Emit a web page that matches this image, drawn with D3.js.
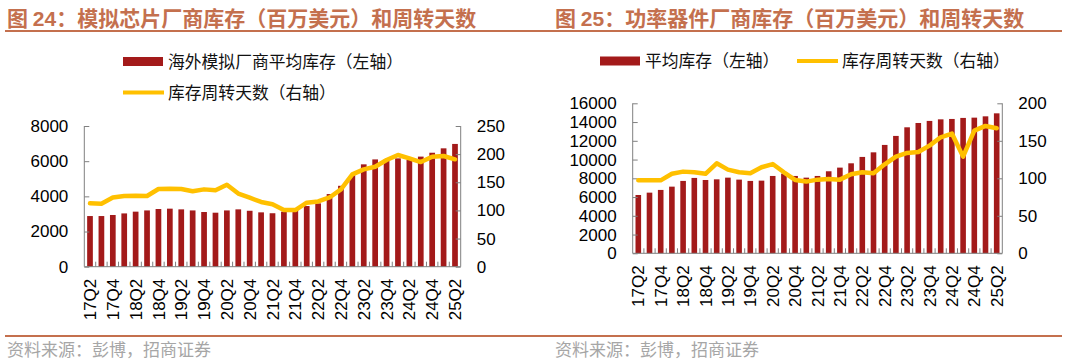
<!DOCTYPE html>
<html>
<head>
<meta charset="utf-8">
<script src="https://cdn.jsdelivr.net/npm/d3@7"></script>
<style>
  html, body { margin: 0; padding: 0; background: #fff; }
  svg { display: block; }
  .num { font-family: "Liberation Sans", Arial, sans-serif; }
  .cjk { font-family: "Noto Sans CJK SC", sans-serif; }
</style>
</head>
<body>
<div id="chart"></div>
<script>
// 季度
const quarters = ['17Q2','17Q3','17Q4','18Q1','18Q2','18Q3','18Q4','19Q1','19Q2','19Q3','19Q4',
  '20Q1','20Q2','20Q3','20Q4','21Q1','21Q2','21Q3','21Q4','22Q1','22Q2','22Q3','22Q4',
  '23Q1','23Q2','23Q3','23Q4','24Q1','24Q2','24Q3','24Q4','25Q1','25Q2'];

// 图24 模拟芯片
const analogInventory = [2880,2880,2940,3030,3130,3200,3280,3300,3260,3200,3110,3070,3200,3260,3180,3090,
  3040,3130,3260,3450,3600,4130,4600,5210,5820,6100,6100,6160,6070,6260,6480,6730,6980];
const analogDays = [112.6,112,123,125.6,126,125.6,138,138.6,138,134,137.4,136,145.7,130,122.6,115,
  111,100.7,100.7,113.7,116,123,137.4,164,173,177.7,189.6,198.5,192.5,186,195.5,196.7,190.8];
const analogLeftTicks = [0,2000,4000,6000,8000];
const analogRightTicks = [0,50,100,150,200,250];

// 图25 功率器件
const powerInventory = [6220,6470,6760,7110,7720,8040,7820,7890,8070,7860,7720,7750,8250,8500,8250,8070,
  8250,8750,9140,9600,10280,10770,11560,12520,13440,13900,14120,14290,14330,14440,14470,14610,14930];
const powerDays = [97.3,97.3,97.3,106,108.9,108,106,120,111.6,108,106.7,114.7,119,108,97.8,95.6,
  98.2,99,98.2,105.3,108,106.7,118.7,128.9,133.8,135,143.6,154.7,159.6,128.9,163.6,169.8,166.7];
const powerLeftTicks = [0,2000,4000,6000,8000,10000,12000,14000,16000];
const powerRightTicks = [0,50,100,150,200];

const BAR = '#a31a1a', LINE = '#ffc000', TITLE = '#c4704e', AXIS = '#808080';

const svg = d3.select('#chart').append('svg').attr('width', 1068).attr('height', 363);

// 标题下划线和来源线贯穿两图
svg.append('line').attr('x1', 5).attr('x2', 1062).attr('y1', 31).attr('y2', 31)
  .attr('stroke', TITLE).attr('stroke-width', 2);
svg.append('line').attr('x1', 5).attr('x2', 1062).attr('y1', 336).attr('y2', 336)
  .attr('stroke', TITLE).attr('stroke-width', 2);

function drawPanel(o) {
  const g = svg.append('g');

  // 标题
  const t = g.append('text').attr('x', o.tx).attr('y', 26)
    .attr('fill', TITLE).attr('font-weight', 'bold').attr('font-size', 21).attr('class', 'cjk');
  t.append('tspan').text('图 ');
  t.append('tspan').attr('class', 'num').text(o.num);
  t.append('tspan').text('：' + o.title);

  // 来源
  g.append('text').attr('x', o.tx).attr('y', 356).attr('class', 'cjk')
    .attr('font-size', 17).attr('fill', '#a6a6a6').text('资料来源：彭博，招商证券');

  // 图例
  o.legend.forEach(l => {
    if (l.type === 'bar') {
      g.append('rect').attr('x', l.x).attr('y', l.y - 4.5).attr('width', 40).attr('height', 9).attr('fill', BAR);
    } else {
      g.append('line').attr('x1', l.x).attr('x2', l.x + 41).attr('y1', l.y).attr('y2', l.y)
        .attr('stroke', LINE).attr('stroke-width', 4);
    }
    g.append('text').attr('x', l.x + 45).attr('y', l.y).attr('dy', '0.36em').attr('class', 'cjk')
      .attr('font-size', 16.8).attr('fill', '#111').text(l.label);
  });

  const x = d3.scaleBand().domain(quarters).range([o.left, o.right]).paddingInner(0.5).paddingOuter(0.25);
  const yL = d3.scaleLinear().domain([0, o.leftTicks[o.leftTicks.length - 1]]).range([o.bottom, o.top]);
  const yR = d3.scaleLinear().domain([0, o.rightTicks[o.rightTicks.length - 1]]).range([o.bottom, o.top]);

  // 柱
  g.append('g').selectAll('rect').data(o.bars).join('rect')
    .attr('x', (d, i) => x(quarters[i])).attr('width', x.bandwidth())
    .attr('y', d => yL(d)).attr('height', d => o.bottom - yL(d)).attr('fill', BAR);

  // 轴
  const yAxisL = d3.axisLeft(yL).tickValues(o.leftTicks).tickSize(-5).tickPadding(16).tickFormat(d3.format('d'));
  const yAxisR = d3.axisRight(yR).tickValues(o.rightTicks).tickSize(-5).tickPadding(16).tickFormat(d3.format('d'));
  const ga = g.append('g').attr('transform', `translate(${o.left},0)`).call(yAxisL);
  const gb = g.append('g').attr('transform', `translate(${o.right},0)`).call(yAxisR);

  // x 轴：每个季度一个刻度，每两个季度一个标签
  const step = (o.right - o.left) / quarters.length;
  const xb = g.append('g');
  xb.append('line').attr('x1', o.left).attr('x2', o.right).attr('y1', o.bottom).attr('y2', o.bottom)
    .attr('stroke', AXIS);
  xb.selectAll('line.tk').data(d3.range(1, quarters.length)).join('line').attr('class', 'tk')
    .attr('x1', i => o.left + i * step).attr('x2', i => o.left + i * step)
    .attr('y1', o.bottom).attr('y2', o.bottom - 5).attr('stroke', AXIS);
  xb.selectAll('text').data(quarters.filter((q, i) => i % 2 === 0)).join('text').attr('class', 'num')
    .attr('transform', q => `translate(${x(q) + x.bandwidth() / 2},${o.bottom + 12}) rotate(-90)`)
    .attr('text-anchor', 'end').attr('dy', '0.36em').attr('font-size', 17).attr('fill', '#000').text(q => q);

  [ga, gb].forEach(a => {
    a.select('.domain').remove();
    a.selectAll('.tick line').attr('stroke', AXIS);
    a.selectAll('.tick text').attr('class', 'num').attr('font-size', 17).attr('fill', '#000');
  });
  g.append('line').attr('x1', o.left).attr('x2', o.left).attr('y1', o.top).attr('y2', o.bottom).attr('stroke', AXIS);
  g.append('line').attr('x1', o.right).attr('x2', o.right).attr('y1', o.top).attr('y2', o.bottom).attr('stroke', AXIS);

  // 周转天数线
  const line = d3.line().x((d, i) => x(quarters[i]) + x.bandwidth() / 2).y(d => yR(d));
  g.append('path').datum(o.days).attr('d', line).attr('fill', 'none')
    .attr('stroke', LINE).attr('stroke-width', 4.5).attr('stroke-linejoin', 'round').attr('stroke-linecap', 'round');
}

drawPanel({
  tx: 7, num: '24', title: '模拟芯片厂商库存（百万美元）和周转天数',
  left: 84.3, right: 460.7, top: 126, bottom: 266.7,
  leftTicks: analogLeftTicks, rightTicks: analogRightTicks,
  bars: analogInventory, days: analogDays,
  legend: [
    { type: 'bar', x: 123, y: 61.5, label: '海外模拟厂商平均库存（左轴）' },
    { type: 'line', x: 123, y: 92.5, label: '库存周转天数（右轴）' }
  ]
});

drawPanel({
  tx: 555, num: '25', title: '功率器件厂商库存（百万美元）和周转天数',
  left: 632.7, right: 1002.3, top: 103.3, bottom: 253.3,
  leftTicks: powerLeftTicks, rightTicks: powerRightTicks,
  bars: powerInventory, days: powerDays,
  legend: [
    { type: 'bar', x: 600, y: 61, label: '平均库存（左轴）' },
    { type: 'line', x: 797, y: 61, label: '库存周转天数（右轴）' }
  ]
});
</script>
</body>
</html>
